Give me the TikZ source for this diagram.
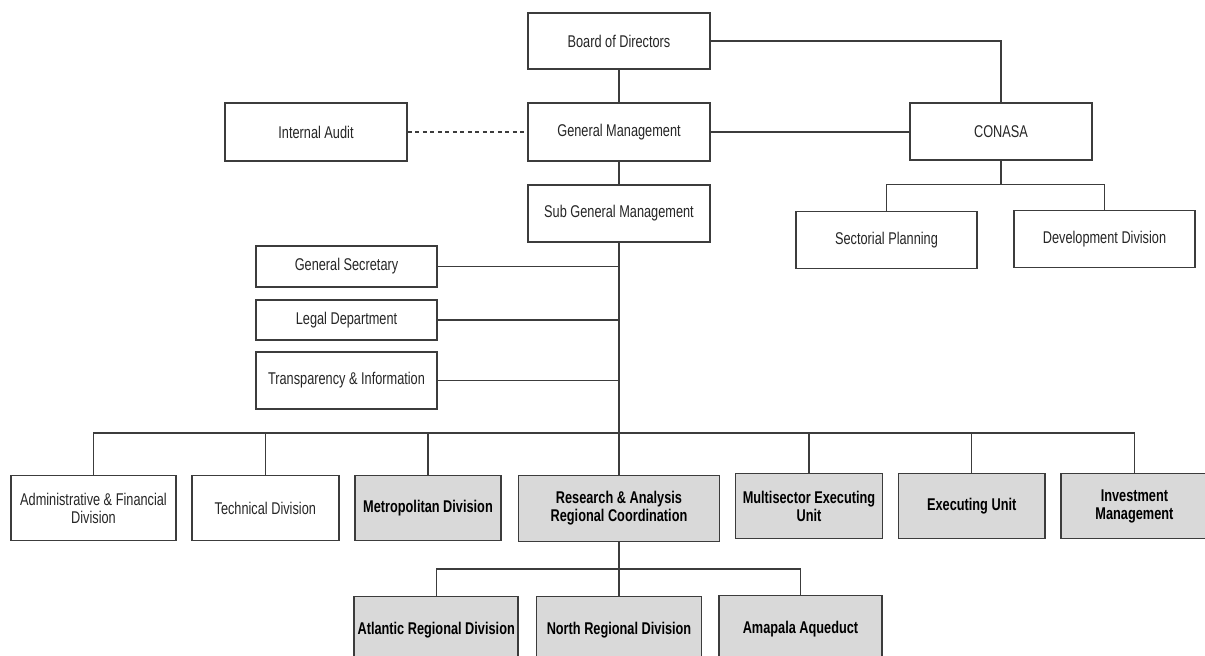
\documentclass[tikz,border=0pt]{standalone}
\usepackage{fontspec}
\setmainfont{Liberation Sans}[FakeStretch=0.75]
\definecolor{linec}{HTML}{3C3C3C}
\definecolor{shade}{HTML}{D9D9D9}
\definecolor{txt}{HTML}{262626}
\begin{document}
\begin{tikzpicture}[x=1pt,y=-1pt,
  unitbox/.style={draw=linec, line width=1.5pt, rectangle, inner sep=0pt,
    align=center, text=txt, font=\fontsize{17}{18}\selectfont},
  plainbox/.style={unitbox, fill=white},
  shadedbox/.style={unitbox, fill=shade, text=black,
    font=\fontsize{17}{18}\selectfont\bfseries},
  link/.style={draw=linec, line width=1.4pt},
  dotted link/.style={link, dash pattern=on 4pt off 3.5pt}]
\useasboundingbox (0,0) rectangle (1205,656);
\fill[white] (0,0) rectangle (1205,656);

% top of the hierarchy
\node[plainbox, minimum width=182pt, minimum height=56pt] (board) at (619,41) {Board of Directors};
\node[plainbox, minimum width=182pt, minimum height=58pt] (gm) at (619,132) {General Management};
\node[plainbox, minimum width=182pt, minimum height=57pt] (sgm) at (619,213.5) {Sub General Management};
\node[plainbox, minimum width=182pt, minimum height=58pt] (audit) at (316,132) {Internal Audit};

% CONASA branch
\node[plainbox, minimum width=182pt, minimum height=57pt] (conasa) at (1001,131.5) {CONASA};
\node[plainbox, minimum width=181pt, minimum height=57pt] (sect) at (886.5,240) {Sectorial Planning};
\node[plainbox, minimum width=181pt, minimum height=57pt] (dev) at (1104.5,239) {Development Division};

% staff units
\node[plainbox, minimum width=181pt, minimum height=41pt] (gensec) at (346.5,266.5) {General Secretary};
\node[plainbox, minimum width=181pt, minimum height=40pt] (legal) at (346.5,320) {Legal Department};
\node[plainbox, minimum width=181pt, minimum height=57pt] (transp) at (346.5,380.5) {Transparency \& Information};

% divisions
\node[plainbox, minimum width=165pt, minimum height=65pt] (admin) at (93.5,508) {Administrative \& Financial\\Division};
\node[plainbox, minimum width=147pt, minimum height=65pt] (tech) at (265.3,508) {Technical Division};
\node[shadedbox, minimum width=146pt, minimum height=65pt] (metro) at (428,508) {Metropolitan Division};
\node[shadedbox, minimum width=201pt, minimum height=66pt] (research) at (619,508.5) {Research \& Analysis\\Regional Coordination};
\node[shadedbox, minimum width=146.6pt, minimum height=65pt] (multi) at (809,506) {Multisector Executing\\Unit};
\node[shadedbox, minimum width=146.6pt, minimum height=65pt] (exec) at (971.7,506) {Executing Unit};
\node[shadedbox, minimum width=147pt, minimum height=65pt] (invest) at (1134.4,506) {Investment\\Management};

% regional divisions
\node[shadedbox, minimum width=164pt, minimum height=67pt] (atl) at (436.2,630) {Atlantic Regional Division};
\node[shadedbox, minimum width=165pt, minimum height=67pt] (north) at (619,630) {North Regional Division};
\node[shadedbox, minimum width=163pt, minimum height=67pt] (amapala) at (800.5,629) {Amapala Aqueduct};

% junction points
\coordinate (cbus) at (1001,184.3);
\coordinate (mbus) at (619,433);
\coordinate (rbus) at (619,569);

% connectors
\draw[link] (board) -- (gm);
\draw[link] (gm) -- (sgm);
\draw[link] (board.east) -| (conasa.north);
\draw[link] (gm.east) -- (gm.east -| conasa.west);
\draw[dotted link] (audit.east) -- (gm.west);
\draw[link] (conasa.south) -- (cbus);
\draw[link] (sect.north) |- (cbus) -| (dev.north);
\draw[link] (sgm.south) -- (research.north);
\draw[link] (gensec.east) -- (gensec.east -| mbus);
\draw[link] (legal.east) -- (legal.east -| mbus);
\draw[link] (transp.east) -- (transp.east -| mbus);
\draw[link] (admin.north) |- (mbus) -| (invest.north);
\draw[link] (tech.north) -- (tech.north |- mbus);
\draw[link] (metro.north) -- (metro.north |- mbus);
\draw[link] (multi.north) -- (multi.north |- mbus);
\draw[link] (exec.north) -- (exec.north |- mbus);
\draw[link] (research.south) -- (north.north);
\draw[link] (atl.north) |- (rbus) -| (amapala.north);
\end{tikzpicture}
\end{document}
